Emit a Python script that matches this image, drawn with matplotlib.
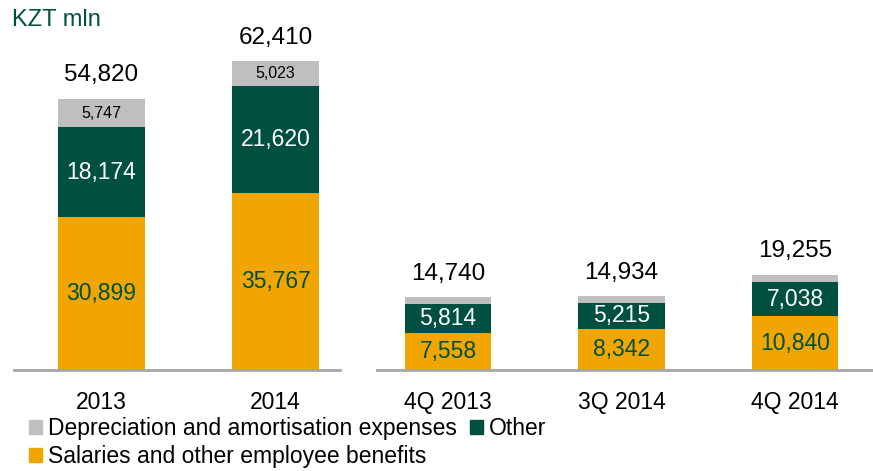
import matplotlib
matplotlib.use("Agg")
import matplotlib.pyplot as plt
from matplotlib.patches import Patch

plt.rcParams['font.family'] = ['Liberation Sans', 'DejaVu Sans']

left_cats = ["2013", "2014"]
left_sal = [30899, 35767]
left_oth = [18174, 21620]
left_dep = [5747, 5023]
left_tot = [54820, 62410]

right_cats = ["4Q 2013", "3Q 2014", "4Q 2014"]
right_sal = [7558, 8342, 10840]
right_oth = [5814, 5215, 7038]
right_dep = [1368, 1377, 1377]
right_tot = [14740, 14934, 19255]

C_SAL = "#F0A500"
C_OTH = "#00503F"
C_DEP = "#BFBFBF"
C_TXT_G = "#00503F"

W, H = 873, 471
fig = plt.figure(figsize=(W / 100, H / 100), dpi=100)

base_y = 370
ymax = 70000
scale = 271 / 54820
ax_h = ymax * scale


def make_ax(x0, x1, xlim):
    ax = fig.add_axes([x0 / W, (H - base_y) / H, (x1 - x0) / W, ax_h / H])
    ax.set_xlim(*xlim)
    ax.set_ylim(0, ymax)
    for s in ["top", "right", "left"]:
        ax.spines[s].set_visible(False)
    ax.spines["bottom"].set_color("#A6A6A6")
    ax.spines["bottom"].set_linewidth(2)
    ax.set_yticks([])
    ax.tick_params(axis="x", length=0, pad=15, labelsize=16.5)
    return ax


def draw(ax, cats, sal, oth, dep, tot, show_dep):
    x = list(range(len(cats)))
    bw = 0.5
    ax.bar(x, sal, bw, color=C_SAL)
    ax.bar(x, oth, bw, bottom=sal, color=C_OTH)
    bot2 = [a + b for a, b in zip(sal, oth)]
    ax.bar(x, dep, bw, bottom=bot2, color=C_DEP)
    ax.set_xticks(x)
    ax.set_xticklabels(cats)
    for i in x:
        ax.text(i, sal[i] / 2, f"{sal[i]:,}", ha="center", va="center",
                color=C_TXT_G, fontsize=16.5)
        ax.text(i, sal[i] + oth[i] / 2, f"{oth[i]:,}", ha="center", va="center",
                color="white", fontsize=16.5)
        if show_dep:
            ax.text(i, bot2[i] + dep[i] / 2, f"{dep[i]:,}", ha="center", va="center",
                    color="black", fontsize=11.5)
        ax.annotate(f"{tot[i]:,}", (i, tot[i]), xytext=(0, 9), textcoords="offset points",
                    ha="center", va="bottom", fontsize=17.5, color="black")


axL = make_ax(14, 340, (-0.5, 1.37))
draw(axL, left_cats, left_sal, left_oth, left_dep, left_tot, True)
axR = make_ax(377, 873, (-0.41, 2.45))
draw(axR, right_cats, right_sal, right_oth, right_dep, right_tot, False)

fig.text(12 / W, 1 - 20 / H, "KZT mln", color=C_TXT_G, fontsize=17, va="center", ha="left")

handles = [Patch(color=C_DEP, label="Depreciation and amortisation expenses"),
           Patch(color=C_SAL, label="Salaries and other employee benefits"),
           Patch(color=C_OTH, label="Other")]
fig.legend(handles=handles, ncol=2, loc="lower left", bbox_to_anchor=(20 / W, -6 / H),
           frameon=False, fontsize=16.5, handlelength=0.55, handleheight=0.55,
           handletextpad=0.25, columnspacing=0.6, labelspacing=0.2, borderaxespad=0)

fig.savefig("out.png", dpi=100)
